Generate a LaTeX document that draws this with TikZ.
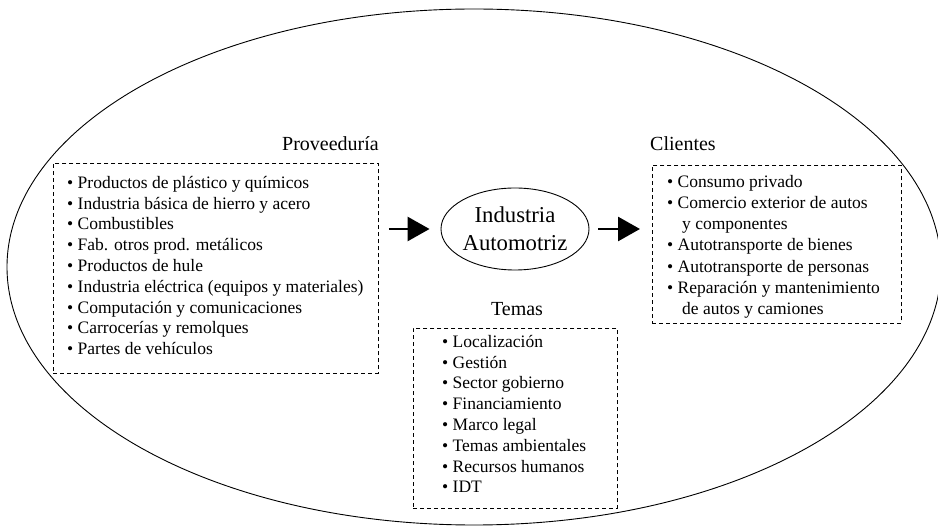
\documentclass[tikz,border=0pt]{standalone}
\usepackage{fontspec}
\setmainfont{Liberation Serif}
\usetikzlibrary{arrows.meta,shapes.geometric}
\begin{document}
\begin{tikzpicture}[x=1pt,y=-1pt,
  dbox/.style={draw, dash pattern=on 4pt off 3pt, line width=0.9pt, inner sep=0pt, anchor=north west},
  listtxt/.style={anchor=north west, inner sep=0pt, align=left, font=\fontsize{17.5}{20.8}\selectfont},
  lbl/.style={inner sep=0pt, font=\fontsize{20}{24}\selectfont},
  bigarrow/.style={line width=2.8pt, -{Triangle[length=22pt,width=24pt]}}
]
\useasboundingbox (0,0) rectangle (938,526);
\draw[line width=0.9pt] (474,267) ellipse [x radius=467, y radius=258];

\node[lbl, anchor=base east] (provlbl) at (379,151) {Proveeduría};
\node[dbox, minimum width=325pt, minimum height=210pt] (prov) at (53,163) {};
\node[listtxt] (provtxt) at (67,176) {• Productos de plástico y químicos\\
• Industria básica de hierro y acero\\
• Combustibles\\
• Fab. otros prod. metálicos\\
• Productos de hule\\
• Industria eléctrica (equipos y materiales)\\
• Computación y comunicaciones\\
• Carrocerías y remolques\\
• Partes de vehículos};

\node[draw, ellipse, line width=0.9pt, minimum width=148pt, minimum height=82pt, inner sep=0pt, align=center, font=\fontsize{22.7}{28}\selectfont] (ind) at (515,229) {Industria\\Automotriz};

\node[lbl, anchor=base west] (clilbl) at (650,151) {Clientes};
\node[dbox, minimum width=249pt, minimum height=158pt] (cli) at (652,165) {};
\node[listtxt, font=\fontsize{17.5}{21.2}\selectfont] (clitxt) at (667,175) {• Consumo privado\\
• Comercio exterior de autos\\
\hspace*{15pt}y componentes\\
• Autotransporte de bienes\\
• Autotransporte de personas\\
• Reparación y mantenimiento\\
\hspace*{15pt}de autos y camiones};

\node[lbl, anchor=base] (temlbl) at (517,316) {Temas};
\node[dbox, minimum width=204pt, minimum height=180pt] (tem) at (413,328) {};
\node[listtxt] (temtxt) at (442,335) {• Localización\\
• Gestión\\
• Sector gobierno\\
• Financiamiento\\
• Marco legal\\
• Temas ambientales\\
• Recursos humanos\\
• IDT};

\draw[bigarrow, shorten <=10pt, shorten >=11pt] (prov.east |- ind.west) -- (ind.west);
\draw[bigarrow, shorten <=9pt, shorten >=12pt] (ind.east) -- (ind.east -| cli.west);
\end{tikzpicture}
\end{document}
